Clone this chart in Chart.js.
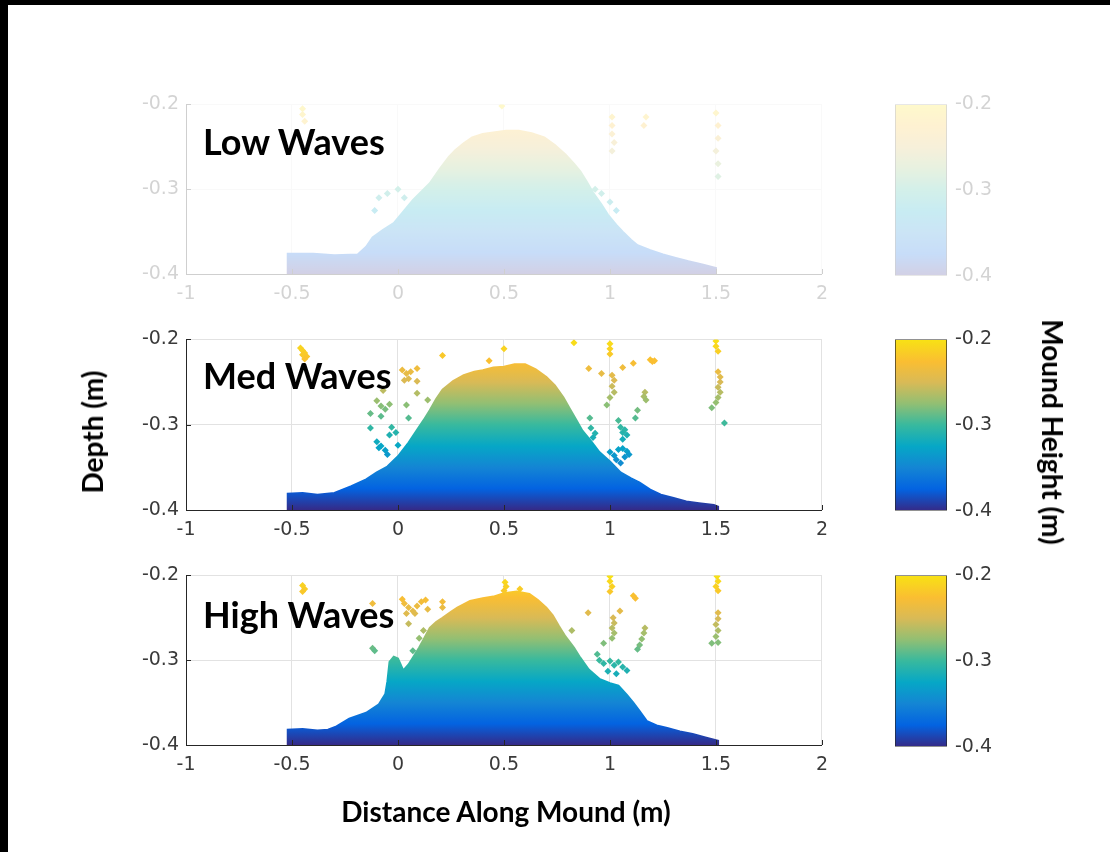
<!DOCTYPE html>
<html>
<head>
<meta charset="utf-8">
<script src="https://cdn.jsdelivr.net/npm/chart.js@4.4.1/dist/chart.umd.min.js"></script>
<style>
  body { margin: 0; width: 1110px; height: 852px; background: #000; overflow: hidden; position: relative; }
  #sheet { position: absolute; left: 8px; top: 5px; right: 0; bottom: 0; background: #fff; }
  canvas { position: absolute; }
  .faded { position: absolute; left: 0; top: 0; width: 1110px; height: 852px; opacity: 0.22; }
  .label { position: absolute; font-family: Lato, "Open Sans", sans-serif; font-weight: bold; color: #000; white-space: nowrap; }
  .panelTitle { font-size: 36px; line-height: 36px; left: 203px; }
  .axisTitle { font-size: 28px; line-height: 28px; transform: translate(-50%, -50%); }
</style>
</head>
<body>
<div id="sheet"></div>
<div class="faded">
  <canvas id="lowChart" width="711" height="228" style="left:126px;top:86px"></canvas>
  <canvas id="lowBar" width="122" height="210" style="left:885px;top:85px"></canvas>
</div>
<canvas id="medChart" width="711" height="229" style="left:126px;top:321px"></canvas>
<canvas id="medBar" width="122" height="210" style="left:885px;top:320px"></canvas>
<canvas id="highChart" width="711" height="228" style="left:126px;top:557px"></canvas>
<canvas id="highBar" width="122" height="210" style="left:885px;top:556px"></canvas>

<div class="label panelTitle" style="top:123px">Low Waves</div>
<div class="label panelTitle" style="top:357px">Med Waves</div>
<div class="label panelTitle" style="top:596px">High Waves</div>
<div class="label axisTitle" style="left:92px;top:432px;transform:translate(-50%,-50%) rotate(-90deg)">Depth (m)</div>
<div class="label axisTitle" style="left:1053px;top:432px;transform:translate(-50%,-50%) rotate(90deg)">Mound Height (m)</div>
<div class="label axisTitle" style="left:506px;top:811px">Distance Along Mound (m)</div>

<script>
// tick labels
const xTicks = [-1, -0.5, 0, 0.5, 1, 1.5, 2];
const yTicks = [-0.4, -0.3, -0.2];

// top surface of the mound (upper envelope of the point cloud)
const lowProfileX = [-0.52, -0.52, -0.40, -0.30, -0.19, -0.15, -0.12, -0.07, -0.02, 0.03, 0.07, 0.11, 0.15, 0.20, 0.24, 0.27, 0.31, 0.35, 0.40, 0.45, 0.51, 0.57, 0.63, 0.69, 0.74, 0.79, 0.83, 0.86, 0.89, 0.92, 0.96, 0.99, 1.03, 1.06, 1.10, 1.13, 1.19, 1.25, 1.31, 1.37, 1.44, 1.50, 1.50];
const lowProfileY = [-0.400, -0.376, -0.376, -0.378, -0.377, -0.368, -0.357, -0.348, -0.340, -0.325, -0.313, -0.303, -0.293, -0.275, -0.262, -0.254, -0.246, -0.239, -0.235, -0.233, -0.231, -0.231, -0.234, -0.239, -0.248, -0.259, -0.270, -0.279, -0.291, -0.304, -0.318, -0.330, -0.342, -0.350, -0.360, -0.366, -0.372, -0.377, -0.381, -0.385, -0.389, -0.393, -0.400];

const medProfileX = [-0.52, -0.52, -0.45, -0.38, -0.30, -0.22, -0.15, -0.10, -0.05, 0.00, 0.05, 0.09, 0.12, 0.15, 0.18, 0.21, 0.26, 0.31, 0.36, 0.40, 0.45, 0.50, 0.55, 0.60, 0.65, 0.70, 0.74, 0.78, 0.81, 0.84, 0.87, 0.91, 0.95, 1.00, 1.05, 1.10, 1.14, 1.19, 1.24, 1.30, 1.36, 1.42, 1.49, 1.51, 1.51];
const medProfileY = [-0.400, -0.381, -0.380, -0.382, -0.380, -0.372, -0.364, -0.356, -0.349, -0.337, -0.321, -0.306, -0.295, -0.283, -0.270, -0.259, -0.249, -0.242, -0.238, -0.236, -0.233, -0.232, -0.229, -0.229, -0.235, -0.244, -0.254, -0.268, -0.281, -0.294, -0.307, -0.319, -0.332, -0.343, -0.356, -0.363, -0.368, -0.376, -0.382, -0.386, -0.390, -0.392, -0.394, -0.396, -0.400];

const highProfileX = [-0.52, -0.52, -0.45, -0.38, -0.33, -0.29, -0.23, -0.15, -0.09, -0.06, -0.05, -0.04, -0.02, 0.00, 0.025, 0.05, 0.07, 0.10, 0.12, 0.15, 0.18, 0.21, 0.25, 0.28, 0.34, 0.40, 0.45, 0.50, 0.56, 0.62, 0.66, 0.70, 0.73, 0.76, 0.79, 0.83, 0.86, 0.90, 0.95, 1.00, 1.04, 1.08, 1.11, 1.14, 1.175, 1.22, 1.27, 1.33, 1.39, 1.45, 1.51, 1.51];
const highProfileY = [-0.400, -0.382, -0.381, -0.383, -0.382, -0.378, -0.369, -0.362, -0.352, -0.340, -0.325, -0.302, -0.296, -0.298, -0.312, -0.305, -0.297, -0.285, -0.276, -0.262, -0.255, -0.250, -0.243, -0.238, -0.230, -0.227, -0.225, -0.221, -0.219, -0.222, -0.229, -0.238, -0.247, -0.260, -0.272, -0.285, -0.297, -0.311, -0.322, -0.327, -0.330, -0.341, -0.350, -0.360, -0.372, -0.377, -0.380, -0.384, -0.387, -0.391, -0.395, -0.400];

// loose points above the mound
const lowStrayX = [-0.45, -0.45, -0.44, 0.49, 1.01, 1.01, 1.01, 1.02, 1.01, 1.17, 1.16, 1.50, 1.51, 1.51, 1.50, 1.51, 1.51, -0.09, -0.05, 0.00, 0.03, -0.11, 0.93, 0.96, 1.00, 1.03];
const lowStrayY = [-0.205, -0.212, -0.220, -0.202, -0.215, -0.225, -0.235, -0.245, -0.255, -0.215, -0.225, -0.210, -0.225, -0.240, -0.255, -0.270, -0.285, -0.310, -0.305, -0.300, -0.310, -0.325, -0.300, -0.305, -0.315, -0.325];

const medStrayX = [-0.46, -0.45, -0.44, -0.43, -0.45, -0.44, 0.21, 0.43, 0.50, 0.02, 0.04, 0.06, 0.09, 0.05, 0.03, 0.09, -0.07, 0.09, -0.10, -0.08, -0.06, -0.04, -0.08, -0.13, -0.13, 0.04, 0.05, -0.03, -0.01, -0.04, -0.10, -0.08, -0.06, -0.05, -0.09, 0.00, 0.14, 0.83, 1.00, 1.00, 1.00, 0.90, 0.96, 1.01, 1.02, 1.01, 1.02, 1.00, 1.06, 1.11, 1.19, 1.20, 1.21, 0.985, 1.165, 1.16, 1.17, 1.13, 1.12, 0.905, 0.91, 0.93, 0.92, 1.04, 1.05, 1.06, 1.07, 1.08, 1.06, 1.00, 1.02, 1.04, 1.06, 1.08, 1.09, 1.03, 1.07, 1.05, 1.50, 1.50, 1.51, 1.51, 1.52, 1.52, 1.51, 1.52, 1.51, 1.50, 1.48, 1.54];
const medStrayY = [-0.210, -0.213, -0.216, -0.220, -0.218, -0.223, -0.219, -0.225, -0.211, -0.236, -0.240, -0.238, -0.234, -0.246, -0.248, -0.249, -0.260, -0.263, -0.272, -0.278, -0.282, -0.276, -0.290, -0.287, -0.304, -0.277, -0.292, -0.303, -0.309, -0.312, -0.320, -0.325, -0.330, -0.335, -0.327, -0.324, -0.271, -0.204, -0.205, -0.211, -0.217, -0.234, -0.240, -0.242, -0.248, -0.255, -0.262, -0.268, -0.233, -0.228, -0.224, -0.226, -0.225, -0.277, -0.262, -0.267, -0.271, -0.283, -0.292, -0.292, -0.304, -0.310, -0.315, -0.295, -0.303, -0.309, -0.306, -0.312, -0.317, -0.332, -0.336, -0.329, -0.328, -0.331, -0.335, -0.341, -0.338, -0.345, -0.202, -0.208, -0.214, -0.238, -0.244, -0.250, -0.256, -0.262, -0.268, -0.274, -0.280, -0.298];

const highStrayX = [-0.45, -0.44, -0.45, -0.12, -0.12, -0.11, 0.02, 0.03, 0.05, 0.07, 0.09, 0.11, 0.13, 0.04, 0.08, 0.14, 0.21, 0.21, 0.05, 0.10, 0.07, 0.12, 0.505, 0.51, 0.50, 0.575, 1.00, 1.00, 1.01, 1.00, 1.11, 1.12, 0.897, 1.047, 1.015, 1.02, 1.01, 1.02, 1.01, 0.82, 0.97, 1.165, 1.16, 1.15, 1.14, 1.13, 0.94, 0.95, 0.97, 1.00, 1.02, 1.04, 1.06, 1.08, 0.99, 1.03, 1.505, 1.51, 1.50, 1.51, 1.51, 1.51, 1.50, 1.51, 1.50, 1.51, 1.48];
const highStrayY = [-0.212, -0.216, -0.219, -0.233, -0.286, -0.289, -0.228, -0.233, -0.238, -0.242, -0.236, -0.231, -0.229, -0.245, -0.245, -0.240, -0.231, -0.238, -0.257, -0.274, -0.289, -0.265, -0.208, -0.213, -0.218, -0.216, -0.201, -0.207, -0.213, -0.219, -0.224, -0.227, -0.244, -0.242, -0.250, -0.256, -0.262, -0.268, -0.274, -0.265, -0.280, -0.262, -0.268, -0.275, -0.282, -0.287, -0.293, -0.300, -0.304, -0.301, -0.306, -0.302, -0.308, -0.312, -0.313, -0.316, -0.201, -0.207, -0.213, -0.218, -0.244, -0.251, -0.258, -0.265, -0.272, -0.279, -0.280];

// parula-like colormap, low (-0.4) to high (-0.2)
const parulaStops = [
  [0.000, 53, 42, 135],
  [0.125, 3, 99, 225],
  [0.250, 20, 133, 212],
  [0.375, 6, 167, 198],
  [0.500, 56, 185, 158],
  [0.625, 146, 191, 115],
  [0.750, 217, 186, 86],
  [0.870, 250, 190, 50],
  [1.000, 248, 226, 20]
];

function parula(t) {
  t = Math.max(0, Math.min(1, t));
  for (let i = 1; i < parulaStops.length; i++) {
    const a = parulaStops[i - 1], b = parulaStops[i];
    if (t <= b[0]) {
      const f = (t - a[0]) / (b[0] - a[0]);
      const c = [1, 2, 3].map(k => Math.round(a[k] + (b[k] - a[k]) * f));
      return 'rgb(' + c.join(',') + ')';
    }
  }
  return 'rgb(248,226,20)';
}

function fillGradient(chart) {
  const y = chart.scales.y;
  if (!y || !chart.chartArea) return 'rgba(0,0,0,0)';
  const y0 = y.getPixelForValue(-0.4), y1 = y.getPixelForValue(-0.2);
  if (!isFinite(y0) || !isFinite(y1) || y0 === y1) return 'rgba(0,0,0,0)';
  const g = chart.ctx.createLinearGradient(0, y0, 0, y1);
  parulaStops.forEach(s => g.addColorStop(s[0], 'rgb(' + s[1] + ',' + s[2] + ',' + s[3] + ')'));
  return g;
}

const tickFont = { family: '"DejaVu Sans", sans-serif', size: 19 };
const tickColor = '#3a3a3a';
const fmt = v => String(Math.round(v * 10) / 10);

// small inward tick marks, matlab style
const inTicks = {
  id: 'inTicks',
  afterDatasetsDraw(chart) {
    const { ctx, chartArea: a, scales } = chart;
    ctx.save();
    ctx.strokeStyle = '#262626';
    ctx.lineWidth = 1;
    ctx.beginPath();
    scales.x.ticks.forEach(t => {
      const px = Math.round(scales.x.getPixelForValue(t.value)) + 0.5;
      ctx.moveTo(px, a.bottom);
      ctx.lineTo(px, a.bottom - 5);
    });
    scales.y.ticks.forEach(t => {
      const py = Math.round(scales.y.getPixelForValue(t.value)) + 0.5;
      ctx.moveTo(a.left, py);
      ctx.lineTo(a.left + 5, py);
    });
    ctx.stroke();
    ctx.restore();
  }
};

function makePanel(id, profX, profY, strayX, strayY) {
  new Chart(document.getElementById(id), {
    type: 'scatter',
    data: {
      datasets: [
        {
          type: 'line',
          data: profX.map((x, i) => ({ x: x, y: profY[i] })),
          fill: { value: -0.4 },
          backgroundColor: c => fillGradient(c.chart),
          borderColor: c => fillGradient(c.chart),
          borderWidth: 2,
          pointRadius: 0,
          tension: 0,
          order: 2
        },
        {
          data: strayX.map((x, i) => ({ x: x, y: strayY[i] })),
          pointStyle: 'rectRot',
          pointRadius: 3.5,
          borderWidth: 0,
          backgroundColor: c => c.raw ? parula((c.raw.y + 0.4) / 0.2) : '#888',
          order: 1
        }
      ]
    },
    options: {
      responsive: false,
      animation: false,
      events: [],
      layout: { padding: { top: 10, right: 10, left: 0, bottom: 0 } },
      plugins: { legend: { display: false }, tooltip: { enabled: false } },
      scales: {
        x: {
          type: 'linear', min: -1, max: 2,
          afterBuildTicks: s => { s.ticks = xTicks.map(v => ({ value: v })); },
          afterFit: s => { s.height = 40; },
          ticks: { callback: fmt, font: tickFont, color: tickColor, padding: 9, maxRotation: 0, autoSkip: false },
          grid: { color: '#e2e2e2', drawTicks: false },
          border: { color: '#262626', width: 1 }
        },
        y: {
          type: 'linear', min: -0.4, max: -0.2,
          afterBuildTicks: s => { s.ticks = yTicks.map(v => ({ value: v })); },
          afterFit: s => { s.width = 60; },
          ticks: { callback: fmt, font: tickFont, color: tickColor, padding: 7 },
          grid: { color: '#e2e2e2', drawTicks: false },
          border: { color: '#262626', width: 1 }
        }
      }
    },
    plugins: [inTicks]
  });
}

function makeColorbar(id) {
  new Chart(document.getElementById(id), {
    type: 'bar',
    data: {
      labels: ['Mound Height'],
      datasets: [{
        data: [[-0.4, -0.2]],
        backgroundColor: c => fillGradient(c.chart),
        borderColor: '#262626',
        borderWidth: 1,
        borderSkipped: false,
        barPercentage: 1,
        categoryPercentage: 1
      }]
    },
    options: {
      responsive: false,
      animation: false,
      events: [],
      layout: { padding: { top: 10, bottom: 10, left: 10, right: 0 } },
      plugins: { legend: { display: false }, tooltip: { enabled: false } },
      scales: {
        x: { display: false },
        y: {
          position: 'right', min: -0.4, max: -0.2,
          afterBuildTicks: s => { s.ticks = yTicks.map(v => ({ value: v })); },
          afterFit: s => { s.width = 60; },
          ticks: { callback: fmt, font: tickFont, color: tickColor, padding: 8 },
          grid: { display: false, drawTicks: false },
          border: { display: false }
        }
      }
    }
  });
}

makePanel('lowChart', lowProfileX, lowProfileY, lowStrayX, lowStrayY);
makePanel('medChart', medProfileX, medProfileY, medStrayX, medStrayY);
makePanel('highChart', highProfileX, highProfileY, highStrayX, highStrayY);
makeColorbar('lowBar');
makeColorbar('medBar');
makeColorbar('highBar');
</script>
</body>
</html>
